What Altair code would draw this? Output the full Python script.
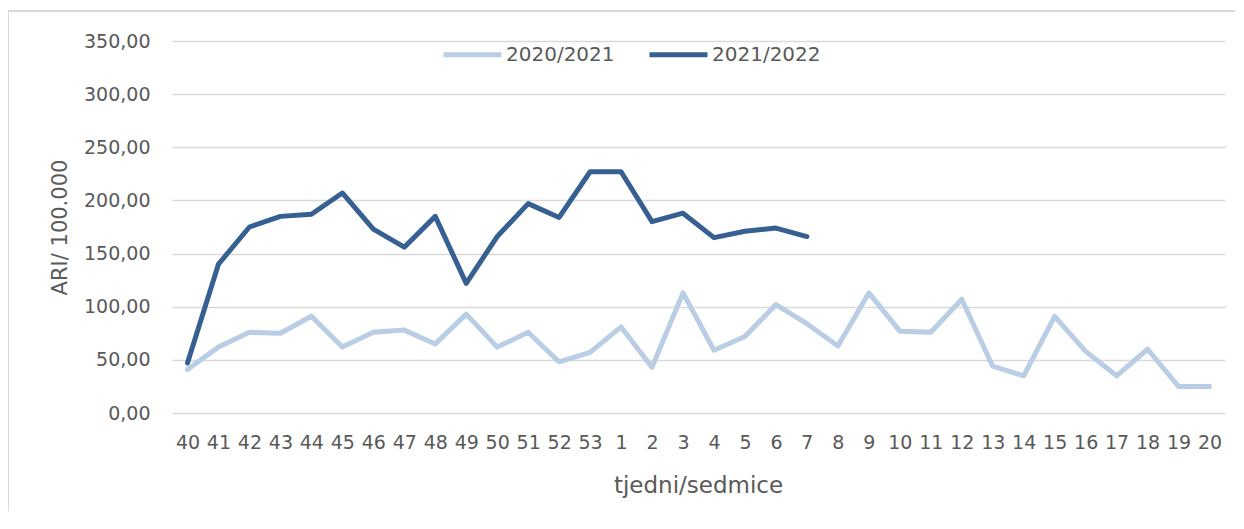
import altair as alt
import pandas as pd

weeks = [str(w) for w in list(range(40, 54)) + list(range(1, 21))]
season_2020 = [41, 62, 76, 75, 91, 62, 76, 78, 65, 93, 62, 76, 48, 57,
               81, 43, 113, 59, 72, 102, 84, 63, 113, 77, 76, 107, 44, 35,
               91, 58, 35, 60, 25, 25]
season_2021 = [47, 140, 175, 185, 187, 207, 173, 156, 185, 122, 166, 197, 184, 227,
               227, 180, 188, 165, 171, 174, 166]
series_names = ["2020/2021", "2021/2022"]
series_colors = ["#B9CDE5", "#376092"]
y_ticks = [0, 50, 100, 150, 200, 250, 300, 350]

rows = []
for i, w in enumerate(weeks):
    rows.append({"week": w, "season": series_names[0], "value": season_2020[i], "idx": i})
for i, v in enumerate(season_2021):
    rows.append({"week": weeks[i], "season": series_names[1], "value": v, "idx": i})
df = pd.DataFrame(rows)

FONT = "DejaVu Sans"
TXT = "#595959"

lines = alt.Chart(df).mark_line(strokeWidth=5, strokeCap="round", strokeJoin="round").encode(
    x=alt.X("week:O", sort=weeks, scale=alt.Scale(padding=0.5),
            axis=alt.Axis(title="tjedni/sedmice", labelAngle=0, labelFontSize=19,
                          labelColor=TXT, labelFont=FONT, labelPadding=20,
                          ticks=False, tickSize=0, domain=False, grid=False,
                          titleFont=FONT, titleFontSize=23, titleColor=TXT,
                          titleFontWeight="normal", titleX=526, titleY=79,
                          titleBaseline="alphabetic")),
    y=alt.Y("value:Q", scale=alt.Scale(domain=[0, 350], nice=False),
            axis=alt.Axis(title="ARI/ 100.000", values=y_ticks,
                          labelExpr="replace(format(datum.value, '.2f'), '.', ',')",
                          labelFontSize=19, labelColor=TXT, labelFont=FONT,
                          labelPadding=22, ticks=False, tickSize=0, domain=False,
                          grid=True, gridColor="#D9D9D9", gridWidth=1.5,
                          titleFont=FONT, titleFontSize=21, titleColor=TXT,
                          titleFontWeight="normal", titleX=-106, titleY=186,
                          titleAlign="center", titleBaseline="alphabetic")),
    color=alt.Color("season:N", scale=alt.Scale(domain=series_names, range=series_colors),
                    legend=alt.Legend(title=None, orient="none", direction="horizontal",
                                      legendX=269, legendY=-18, symbolType="stroke",
                                      symbolSize=3364, symbolStrokeWidth=5,
                                      labelFontSize=20, labelColor=TXT, labelFont=FONT,
                                      labelOffset=2, columnPadding=24, padding=0)),
    detail="season:N",
    order="idx:Q",
)

border_left = alt.Chart(pd.DataFrame({"a": [0]})).mark_rule(
    color="#D9D9D9", strokeWidth=2
).encode(x=alt.value(-164), y=alt.value(-30), y2=alt.value(560))
border_top = alt.Chart(pd.DataFrame({"a": [0]})).mark_rule(
    color="#D9D9D9", strokeWidth=2
).encode(x=alt.value(-165), x2=alt.value(1063), y=alt.value(-30))

chart = alt.layer(border_left, border_top, lines).properties(
    width=1053, height=372,
    autosize=alt.AutoSizeParams(type="none"),
    padding={"left": 164, "top": 33, "right": 11, "bottom": 98},
    background="white",
).configure_view(stroke=None)

chart.save("out.html", embed_options={"renderer": "svg", "actions": False})
